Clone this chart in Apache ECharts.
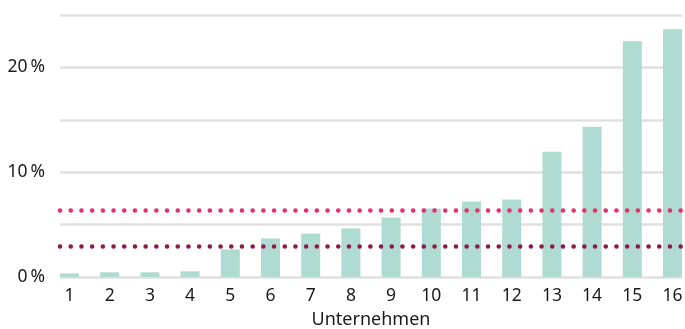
<!DOCTYPE html>
<html><head><meta charset="utf-8">
<script src="https://cdn.jsdelivr.net/npm/echarts@6/dist/echarts.min.js"></script>
<style>html,body{margin:0;padding:0;background:#fff}#c{width:685px;height:329px}</style>
</head><body><div id="c"></div>
<script>
const categories = [1,2,3,4,5,6,7,8,9,10,11,12,13,14,15,16];
const values = [0.35,0.45,0.45,0.54,2.63,3.68,4.15,4.63,5.67,6.53,7.2,7.39,11.95,14.33,22.5,23.64];
const refLinePink = 6.34;
const refLineMaroon = 2.92;
const yTickLabels = [0,10,20];

const chart = echarts.init(document.getElementById('c'));
const font = 'Noto Sans';
chart.setOption({
  animation:false,
  grid:{left:60,right:3,top:15,bottom:52,outerBoundsMode:'none',containLabel:false},
  xAxis:{type:'value',min:0.764,max:16.236,
    axisLine:{show:false},axisTick:{show:false},splitLine:{show:false},
    axisLabel:{customValues:categories,color:'#1a1a1a',fontSize:17.5,fontFamily:font,margin:10,
      formatter:v=>String(Math.round(v))},
    name:'Unternehmen',nameLocation:'middle',nameGap:34,
    nameTextStyle:{color:'#1a1a1a',fontSize:18,fontFamily:font}},
  yAxis:{type:'value',min:0,max:25,interval:5,
    axisLine:{show:false},axisTick:{show:false},
    splitLine:{lineStyle:{color:'#e0e0e0',width:2.5}},
    axisLabel:{color:'#1a1a1a',fontSize:17.5,fontFamily:font,margin:15,
      formatter:v=>yTickLabels.includes(v)?v+'\u202f%':''}},
  series:[{type:'bar',barWidth:19,
    data:categories.map((c,i)=>[c,values[i]]),
    itemStyle:{color:'#b0dbd2'},
    markLine:{silent:true,symbol:'none',label:{show:false},
      data:[
        {yAxis:refLinePink,lineStyle:{color:'#e5306e',width:4.5,type:[0.1,10.6],cap:'round'}},
        {yAxis:refLineMaroon,lineStyle:{color:'#8c1b4b',width:4.5,type:[0.1,10.6],cap:'round'}}
      ]}
  }]
});
</script></body></html>
